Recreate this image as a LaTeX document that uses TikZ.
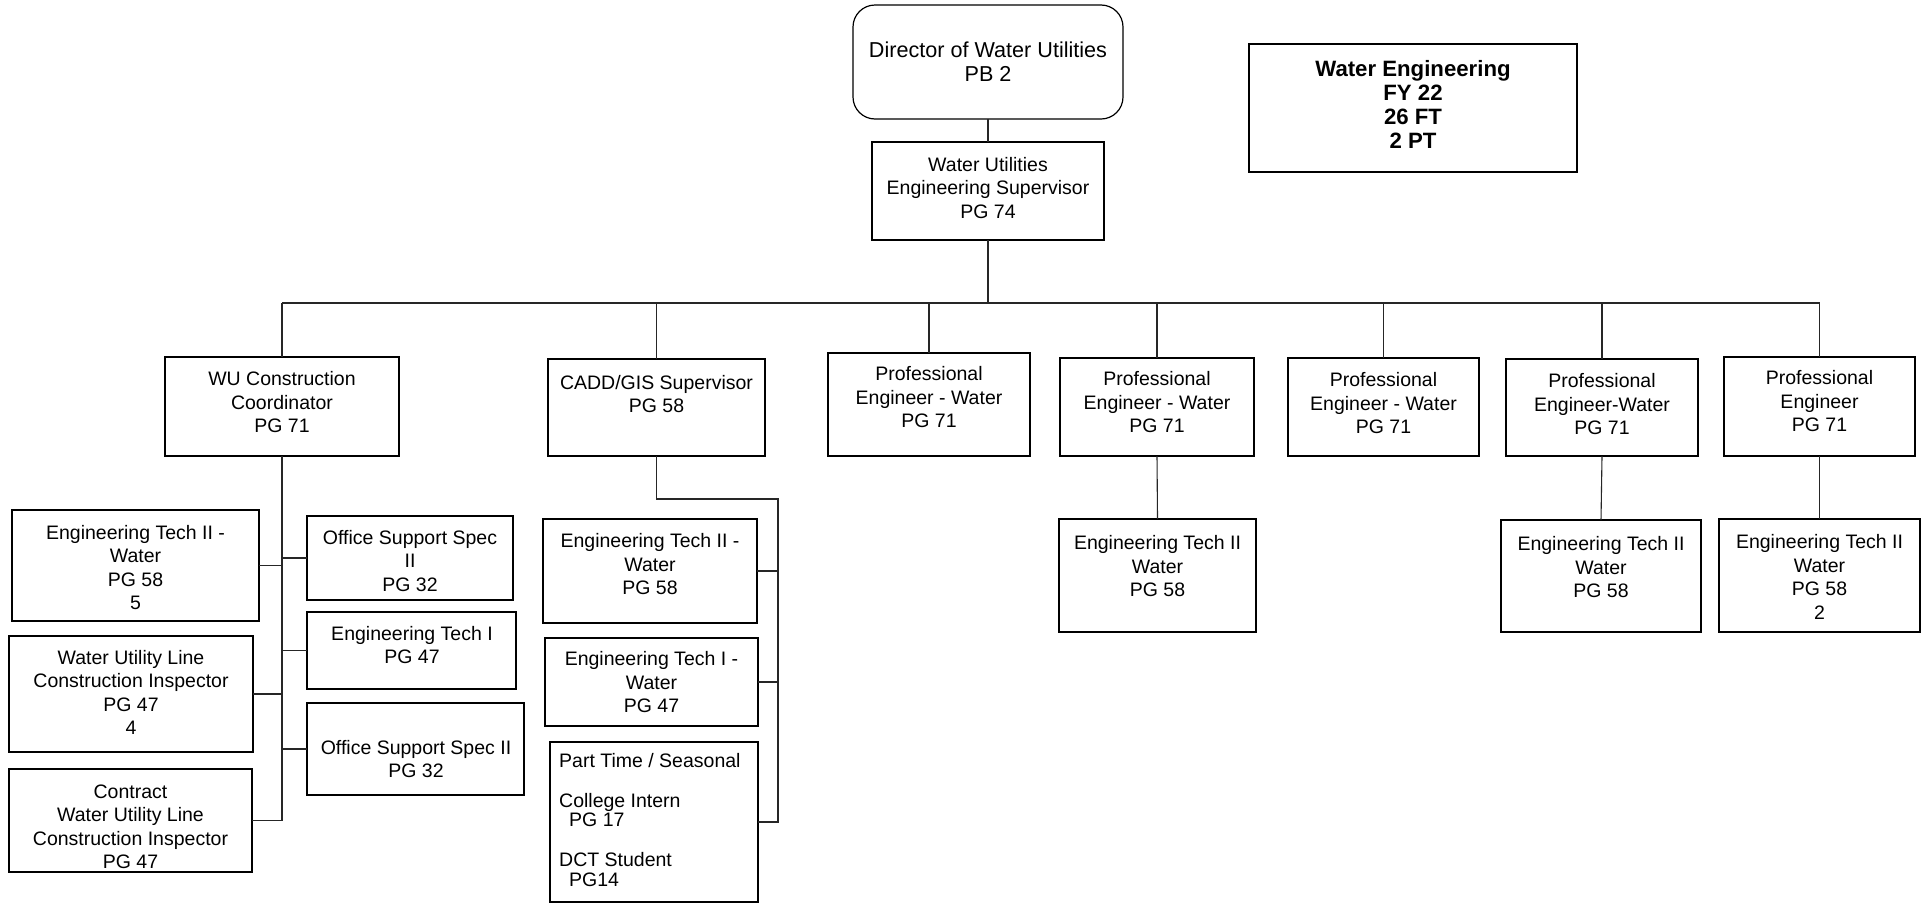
\documentclass[tikz,border=0pt]{standalone}
\usepackage{fontspec}
\setmainfont{Liberation Sans}
\newcommand{\fs}{\fontsize{19.5}{23.5}\selectfont}
\newcommand{\fsd}{\fontsize{21.6}{24.5}\selectfont}
\newcommand{\fsb}{\fontsize{22.2}{24.2}\selectfont\bfseries}
\newcommand{\mkbox}[6][]{%
  \pgfmathsetmacro{\bw}{#4-#3}\pgfmathsetmacro{\bh}{#6-#5}%
  \pgfmathsetmacro{\bcx}{(#3+#4)/2}\pgfmathsetmacro{\bcy}{(#5+#6)/2}%
  \node[box,#1,minimum width=\bw pt,minimum height=\bh pt] (#2) at (\bcx,\bcy) {};}
\begin{document}
\begin{tikzpicture}[x=1pt,y=-1pt,
  box/.style={draw=black, line width=2.4pt, inner sep=0pt, outer sep=0pt, fill=white},
  roundbox/.style={line width=1.2pt, rounded corners=22pt},
  txt/.style={align=center, inner sep=0pt, font=\fs},
  conn/.style={draw=black!85, line width=1.1pt},
]
\useasboundingbox[fill=white] (0,0) rectangle (1929,905);

% boxes
\mkbox[roundbox]{dir}{853}{1123}{5}{119}
\mkbox{sup}{872}{1104}{142}{240}
\mkbox{we}{1249}{1577}{44}{172}
\mkbox{wu}{165}{399}{357}{456}
\mkbox{cadd}{548}{765}{359}{456}
\mkbox{pe1}{828}{1030}{353}{456}
\mkbox{pe2}{1060}{1254}{358}{456}
\mkbox{pe3}{1288}{1479}{358}{456}
\mkbox{pe4}{1506}{1698}{359}{456}
\mkbox{pe5}{1724}{1915}{357}{456}
\mkbox{eta}{1059}{1256}{519}{632}
\mkbox{etb}{1501}{1701}{520}{632}
\mkbox{etc}{1719}{1920}{519}{632}
\mkbox{etw}{12}{259}{510}{621}
\mkbox{wul}{9}{253}{636}{752}
\mkbox{con}{9}{252}{769}{872}
\mkbox{osa}{307}{513}{516}{600}
\mkbox{eti}{307}{516}{612}{689}
\mkbox{osb}{307}{524}{703}{795}
\mkbox{etiiw}{543}{757}{519}{623}
\mkbox{etiw}{545}{758}{638}{726}
\mkbox{pt}{550}{758}{742}{902}

% texts
\node[txt,font=\fsd] (dirt) at (988,61.5) {Director of Water Utilities\\PB 2};
\node[txt] (supt) at (988,188) {Water Utilities\\Engineering Supervisor\\PG 74};
\node[txt,font=\fsb] (wet) at (1413,104.5) {Water Engineering\\FY 22\\26 FT\\2 PT};
\node[txt] (wut) at (282,402.5) {WU Construction\\Coordinator\\PG 71};
\node[txt] (caddt) at (656.5,394) {CADD/GIS Supervisor\\PG 58};
\node[txt] (pe1t) at (929,397.5) {Professional\\Engineer - Water\\PG 71};
\node[txt] (pe2t) at (1157,402.5) {Professional\\Engineer - Water\\PG 71};
\node[txt] (pe3t) at (1383.5,403.5) {Professional\\Engineer - Water\\PG 71};
\node[txt] (pe4t) at (1602,404.5) {Professional\\Engineer-Water\\PG 71};
\node[txt] (pe5t) at (1819.5,401.5) {Professional\\Engineer\\PG 71};
\node[txt] (etat) at (1157.5,566.5) {Engineering Tech II\\Water\\PG 58};
\node[txt] (etbt) at (1601,567.5) {Engineering Tech II\\Water\\PG 58};
\node[txt] (etct) at (1819.5,577) {Engineering Tech II\\Water\\PG 58\\2};
\node[txt] (etwt) at (135.5,567.5) {Engineering Tech II -\\Water\\PG 58\\5};
\node[txt] (wult) at (131,692.5) {Water Utility Line\\Construction Inspector\\PG 47\\4};
\node[txt] (cont) at (130.5,827) {Contract\\Water Utility Line\\Construction Inspector\\PG 47};
\node[txt] (osat) at (410,561) {Office Support Spec\\II\\PG 32};
\node[txt] (etit) at (412,645) {Engineering Tech I\\PG 47};
\node[txt] (osbt) at (416,759) {Office Support Spec II\\PG 32};
\node[txt] (etiiwt) at (650,564.5) {Engineering Tech II -\\Water\\PG 58};
\node[txt] (etiwt) at (651.5,682.5) {Engineering Tech I -\\Water\\PG 47};
\node[txt,align=left,anchor=north west,font=\fontsize{19.5}{19.8}\selectfont] (ptt) at (559,753)
  {Part Time / Seasonal\\[20pt]College Intern\\\hspace*{10pt}PG 17\\[20pt]DCT Student\\\hspace*{10pt}PG14};

% connectors
\coordinate (busL) at (282,303);
\coordinate (busR) at (1819.5,303);
\draw[conn] (dir.south) -- (sup.north);
\draw[conn] (sup.south) -- (sup.south |- busL);
\draw[conn] (busL) -- (busR);
\foreach \n in {wu,cadd,pe1,pe2,pe3,pe4,pe5}
  \draw[conn] (\n.north) -- (\n.north |- busL);
\draw[conn] (pe2.south) -- (eta.north);
\draw[conn] (pe4.south) -- (etb.north);
\draw[conn] (pe5.south) -- (etc.north);
% WU subtree
\draw[conn] (wu.south) -- (wu.south |- con.east) -- (con.east);
\foreach \n in {etw,wul}
  \draw[conn] (wu.south |- \n.east) -- (\n.east);
\foreach \n in {osa,eti,osb}
  \draw[conn] (wu.south |- \n.west) -- (\n.west);
% CADD subtree
\coordinate (cbus) at (778,499);
\draw[conn] (cadd.south) |- (cbus) -- (cbus |- pt.east) -- (pt.east);
\foreach \n in {etiiw,etiw}
  \draw[conn] (cbus |- \n.east) -- (\n.east);
\end{tikzpicture}
\end{document}
